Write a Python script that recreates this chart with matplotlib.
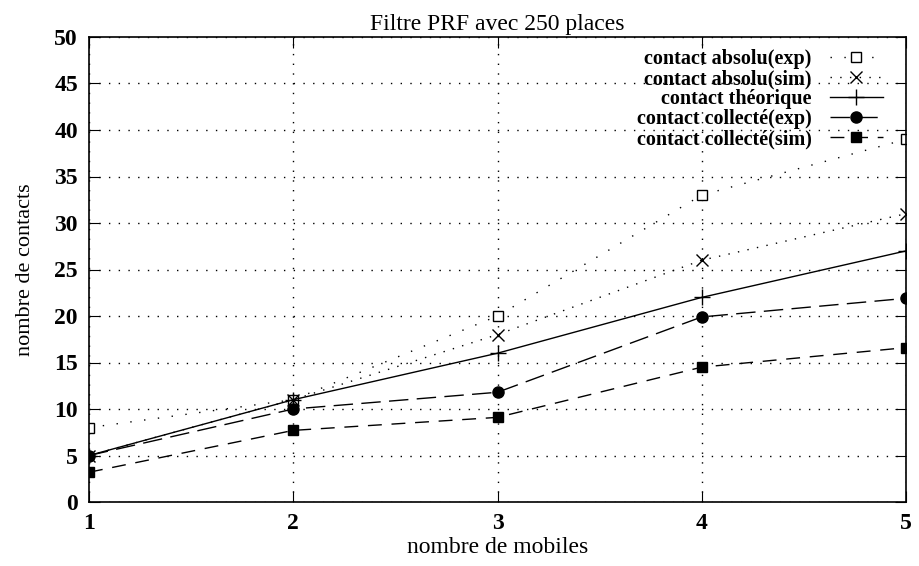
import matplotlib
matplotlib.use('Agg')
import matplotlib.pyplot as plt

mobiles = [1, 2, 3, 4, 5]
absolu_exp = [8, 11, 20, 33, 39]
absolu_sim = [5, 11, 18, 26, 31]
theorique = [5, 11, 16, 22, 27]
collecte_exp = [5, 10, 11.8, 19.9, 21.9]
collecte_sim = [3.2, 7.7, 9.1, 14.5, 16.6]

plt.rcParams['font.family'] = ['Liberation Serif', 'DejaVu Serif']

fig = plt.figure(figsize=(9.19, 5.66), dpi=100)
ax = fig.add_axes([89 / 919, 1 - 502 / 566, (906 - 89) / 919, (502 - 37) / 566])

ax.plot(mobiles, absolu_exp, color='black', linestyle=(0, (1, 9)), linewidth=1,
        marker='s', markersize=7, markerfacecolor='white', markeredgewidth=1,
        label='contact absolu(exp)')
ax.plot(mobiles, absolu_sim, color='black', linestyle=(0, (1, 6)), linewidth=1,
        marker='x', markersize=9, markeredgewidth=1, label='contact absolu(sim)')
ax.plot(mobiles, theorique, color='black', linestyle='-', linewidth=1,
        marker='+', markersize=12, markeredgewidth=1, label='contact théorique')
ax.plot(mobiles, collecte_exp, color='black', linestyle=(0, (14, 6)), linewidth=1,
        marker='o', markersize=8, label='contact collecté(exp)')
ax.plot(mobiles, collecte_sim, color='black', linestyle=(0, (10, 7)), linewidth=1,
        marker='s', markersize=7.5, label='contact collecté(sim)')

ax.set_xlim(1, 5)
ax.set_ylim(0, 50)
ax.set_xticks(mobiles)
ax.set_yticks(range(0, 51, 5))
ax.tick_params(direction='in', top=True, right=True, length=8, labelsize=17, pad=8)
for lab in ax.get_xticklabels() + ax.get_yticklabels():
    lab.set_fontweight('bold')
ax.grid(True, color='black', linestyle=(0, (1, 6)), linewidth=1)
for s in ax.spines.values():
    s.set_linewidth(1.2)

ax.set_title('Filtre PRF avec 250 places', fontsize=17, pad=5)
ax.set_xlabel('nombre de mobiles', fontsize=17, labelpad=2)
ax.set_ylabel('nombre de contacts', fontsize=16, labelpad=14)

ax.legend(loc='upper right', bbox_to_anchor=(0.972, 0.974), frameon=False,
          markerfirst=False, prop={'size': 14.5, 'weight': 'bold'},
          handlelength=2.65, labelspacing=0, handletextpad=0.9,
          borderpad=0, borderaxespad=0)

fig.savefig('out.png', dpi=100)
